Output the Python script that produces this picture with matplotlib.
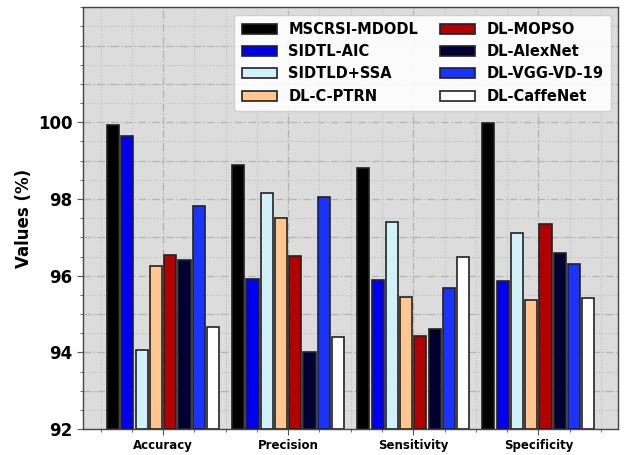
import numpy as np
import matplotlib
matplotlib.use("Agg")
import matplotlib.pyplot as plt
from matplotlib.ticker import MultipleLocator, FixedLocator

categories = ["Accuracy", "Precision", "Sensitivity", "Specificity"]
methods = ["MSCRSI-MDODL", "SIDTL-AIC", "SIDTLD+SSA", "DL-C-PTRN",
           "DL-MOPSO", "DL-AlexNet", "DL-VGG-VD-19", "DL-CaffeNet"]
colors = ["#000000", "#0000ee", "#d2f0fa", "#ffc690",
          "#b30000", "#000033", "#1a33ff", "#ffffff"]

mscrsi = [99.92, 98.89, 98.81, 99.97]
sidtl_aic = [99.63, 95.91, 95.88, 95.85]
sidtld_ssa = [94.06, 98.16, 97.39, 97.11]
dl_cptrn = [96.24, 97.50, 95.44, 95.36]
dl_mopso = [96.55, 96.52, 94.44, 97.36]
dl_alexnet = [96.42, 94.00, 94.62, 96.60]
dl_vgg = [97.81, 98.04, 95.67, 96.30]
dl_caffenet = [94.65, 94.39, 96.50, 95.41]
series = [mscrsi, sidtl_aic, sidtld_ssa, dl_cptrn, dl_mopso, dl_alexnet, dl_vgg, dl_caffenet]

fig = plt.figure(figsize=(6.24, 4.55), dpi=100)
ax = fig.add_axes([0.133, 0.057, 0.858, 0.927])
ax.set_facecolor("#dcdcdc")

x = np.arange(len(categories))
stride = 0.114
width = 0.097
n = len(series)
for i, (vals, c, m) in enumerate(zip(series, colors, methods)):
    off = (i - (n - 1) / 2) * stride
    ax.bar(x + off, np.array(vals) - 92, width, bottom=92, color=c,
           edgecolor="#222222", linewidth=1.2, label=m, zorder=3)

ax.set_ylim(92, 103)
ax.set_xlim(-0.64, 3.64)
ax.yaxis.set_major_locator(FixedLocator([92, 94, 96, 98, 100]))
ax.yaxis.set_minor_locator(MultipleLocator(0.5))
ax.xaxis.set_major_locator(FixedLocator(x))
ax.xaxis.set_minor_locator(MultipleLocator(0.25))
ax.set_xticklabels(categories, fontsize=8.5, fontweight="bold")
for lab in ax.get_yticklabels():
    lab.set_fontweight("bold")
    lab.set_fontsize(12)
ax.set_ylabel("Values (%)", fontsize=12, fontweight="bold")

# gridlines: major dash-dot, minor dotted
for yv in np.arange(92, 103.01, 1.0):
    ax.axhline(yv, color="#b4b4b4", linestyle=(0, (6, 2, 1, 2)), linewidth=0.9, zorder=1)
ax.grid(True, which="minor", color="#c0c0c0", linestyle=":", linewidth=0.8, zorder=1)
ax.grid(True, which="major", axis="x", color="#b0b0b0", linestyle="-.", linewidth=0.9, zorder=1)
ax.set_axisbelow(True)

ax.tick_params(axis="both", which="major", length=4, color="#555555")
ax.tick_params(axis="both", which="minor", length=2, color="#555555")
for sp in ax.spines.values():
    sp.set_color("#444444")
    sp.set_linewidth(1.0)

leg = ax.legend(ncol=2, loc="upper right", prop={"weight": "bold", "size": 10.5},
                frameon=True, fancybox=True, framealpha=0.9, borderpad=0.5,
                handlelength=2.4, columnspacing=1.5, labelspacing=0.5)
leg.get_frame().set_facecolor("white")
leg.get_frame().set_edgecolor("#cccccc")

fig.savefig("out.png", dpi=100)
